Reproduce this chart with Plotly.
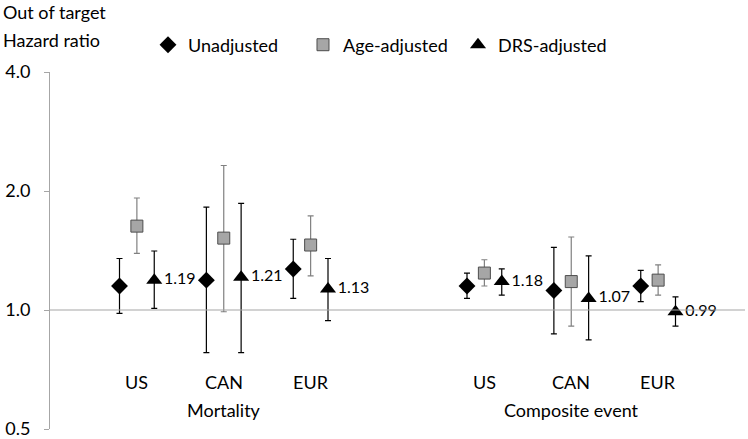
"""Hazard ratio chart, out of target"""

import plotly.graph_objects as go

regions = ["US", "CAN", "EUR", "US", "CAN", "EUR"]
outcomes = ["Mortality", "Mortality", "Mortality",
            "Composite event", "Composite event", "Composite event"]

unadj = [1.15, 1.19, 1.27, 1.15, 1.12, 1.15]
unadj_lo = [0.98, 0.78, 1.07, 1.07, 0.87, 1.05]
unadj_hi = [1.35, 1.82, 1.51, 1.24, 1.44, 1.26]

age = [1.63, 1.52, 1.46, 1.24, 1.18, 1.19]
age_lo = [1.39, 0.99, 1.22, 1.15, 0.91, 1.09]
age_hi = [1.92, 2.32, 1.73, 1.34, 1.53, 1.30]

drs = [1.19, 1.21, 1.13, 1.18, 1.07, 0.99]
drs_lo = [1.01, 0.78, 0.94, 1.09, 0.84, 0.91]
drs_hi = [1.41, 1.86, 1.35, 1.27, 1.37, 1.08]

y_ticks = [0.5, 1.0, 2.0, 4.0]
y_labels = ["0.5", "1.0", "2.0", "4.0"]

FONT = "Lato"

# category slots: an empty slot between the two outcome groups
slots = [i + 1 + (1 if outcomes[i] != outcomes[0] else 0) for i in range(len(regions))]


def errs(vals, lo, hi):
    return [h - v for v, h in zip(vals, hi)], [v - l for v, l in zip(vals, lo)]


fig = go.Figure()

series = [
    ("Unadjusted", unadj, unadj_lo, unadj_hi, -0.2,
     dict(symbol="diamond", size=13, color="black"), "black", False),
    ("Age-adjusted", age, age_lo, age_hi, 0.0,
     dict(symbol="square", size=12, color="#A6A6A6", line=dict(color="#4D4D4D", width=1)),
     "#808080", False),
    ("DRS-adjusted", drs, drs_lo, drs_hi, 0.2,
     dict(symbol="triangle-up", size=14, color="black"), "black", True),
]

for name, vals, lo, hi, off, marker, ecolor, labels in series:
    up, down = errs(vals, lo, hi)
    fig.add_trace(go.Scatter(
        x=[s + off for s in slots],
        y=vals,
        name=name,
        mode="markers+text" if labels else "markers",
        text=[f"{v:.2f}" for v in vals] if labels else None,
        textposition="middle right",
        textfont=dict(family=FONT, size=16, color="black"),
        marker=marker,
        error_y=dict(type="data", symmetric=False, array=up, arrayminus=down,
                     color=ecolor, thickness=1.2, width=3),
        cliponaxis=False,
    ))

fig.add_hline(y=1.0, line=dict(color="#A6A6A6", width=1.2))

for s, r in zip(slots, regions):
    fig.add_annotation(x=s, y=0.095, xref="x", yref="paper", text=r,
                       showarrow=False, font=dict(family=FONT, size=18, color="black"))

for grp in dict.fromkeys(outcomes):
    idx = [s for s, o in zip(slots, outcomes) if o == grp]
    fig.add_annotation(x=sum(idx) / len(idx), y=0.017, xref="x", yref="paper",
                       text=grp, showarrow=False,
                       font=dict(family=FONT, size=18, color="black"))

fig.add_annotation(x=-0.071, y=1.168, xref="paper", yref="paper", text="Out of target",
                   xanchor="left", yanchor="middle", showarrow=False,
                   font=dict(family=FONT, size=18, color="black"))
fig.add_annotation(x=-0.071, y=1.09, xref="paper", yref="paper", text="Hazard ratio",
                   xanchor="left", yanchor="middle", showarrow=False,
                   font=dict(family=FONT, size=18, color="black"))

fig.update_layout(
    width=748,
    height=439,
    template="plotly_white",
    plot_bgcolor="white",
    paper_bgcolor="white",
    margin=dict(l=50, r=3, t=72, b=10, autoexpand=False),
    font=dict(family=FONT, size=18, color="black"),
    showlegend=True,
    legend=dict(orientation="h", x=0.141, y=1.0756, xanchor="left", yanchor="middle",
                font=dict(family=FONT, size=18, color="black"),
                entrywidth=110, bgcolor="rgba(0,0,0,0)"),
    xaxis=dict(range=[0, 8], showgrid=False, zeroline=False, showline=False,
               showticklabels=False, ticks=""),
    yaxis=dict(type="log", range=[-0.30103, 0.60206], tickvals=y_ticks, ticktext=y_labels,
               showgrid=False, zeroline=False, showline=True, linecolor="#A6A6A6",
               linewidth=1, ticks="outside", ticklen=5, tickcolor="#A6A6A6",
               ticklabelstandoff=10, ticklabeloverflow="allow",
               tickfont=dict(family=FONT, size=18, color="black")),
)

# drop the page's default body margin so the figure sits at the window corner
fig.write_html("out.html", config={"displayModeBar": False},
               post_script="document.body.style.margin='0';")
